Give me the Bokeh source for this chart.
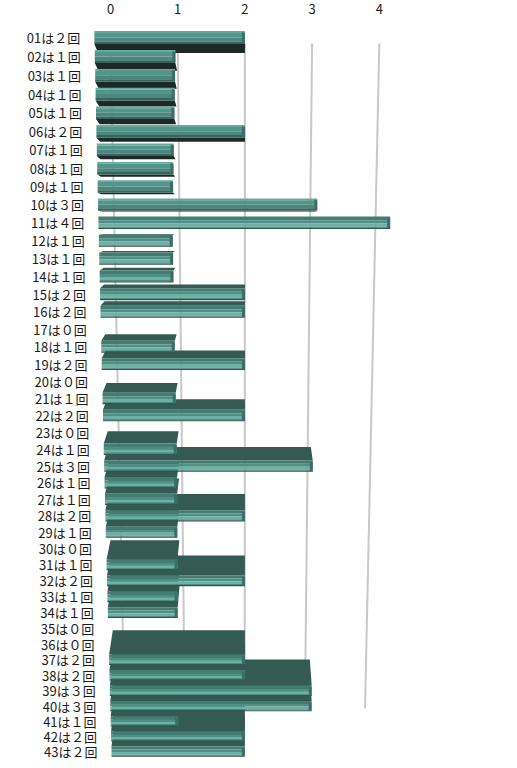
import numpy as np
from bokeh.plotting import figure
from bokeh.models import Range1d, LinearAxis, FixedTicker
from bokeh.core.properties import value
from bokeh.embed import file_html
from bokeh.resources import INLINE

# data: how many times each number came up
numbers = [f"{k:02d}" for k in range(1, 44)]
counts = [2, 1, 1, 1, 1, 2, 1, 1, 1, 3, 4, 1, 1, 1, 2, 2, 0, 1, 2, 0, 1, 2,
          0, 1, 3, 1, 1, 2, 1, 0, 1, 2, 1, 1, 0, 0, 2, 2, 3, 3, 1, 2, 2]
fullwidth = "０１２３４５６７８９"
labels = [f"{n}は{fullwidth[c]}回" for n, c in zip(numbers, counts)]
ticks = [0, 1, 2, 3, 4]

# fake 3d geometry (page pixels vertically, count units horizontally)
n = len(counts)
i = np.arange(n)
yc = 37 + 19.0 * i - 0.0476 * i ** 2
h = 0.68 * (19.0 - 0.095 * i)
horizon = 222.0
cx = 1.98
kf = np.interp(i, [0, 10, 24, 42], [1.03, 1.08, 1.01, 0.99])
left = np.interp(i, [0, 42], [-0.24, 0.015])

top_face = "#355a53"
bottom_face = "#1d2927"
below_stripes = [(0.0, 0.3, "#437c72"), (0.3, 0.55, "#4f8f84"), (0.55, 0.8, "#6ab2a3"),
                 (0.8, 0.9, "#4f8d82"), (0.9, 1.0, "#2f5650")]
above_stripes = [(0.0, 0.15, "#67ab9d"), (0.15, 0.5, "#53958a"), (0.5, 0.8, "#4a887d"),
                 (0.8, 1.0, "#35645c")]

xs, ys, colors = [], [], []


def add(px, py, col):
    xs.append(list(px))
    ys.append(list(py))
    colors.append(col)


# far rows first so nearer faces cover them
order = list(range(0, 10)) + list(range(n - 1, 9, -1))
for k in order:
    c = counts[k]
    if c == 0:
        continue
    T = yc[k] - h[k] / 2
    B = yc[k] + h[k] / 2
    xl = left[k]
    xr = cx + (c - cx) * kf[k]
    if T > horizon:
        d = 0.056 * (T - horizon)
        t = 0.028
        add([xl, xr, xr + (cx - xr) * t, xl + (cx - xl) * t], [T, T, T - d, T - d], top_face)
    elif B < horizon:
        d = 0.05 * (horizon - B)
        t = 0.025
        add([xl, xr, xr + (cx - xr) * t, xl + (cx - xl) * t], [B, B, B + d, B + d], bottom_face)
    stripes = below_stripes if yc[k] > horizon else above_stripes
    for a, b, col in stripes:
        y0 = T + a * h[k]
        y1 = T + b * h[k]
        add([xl, xr, xr, xl], [y0, y0, y1, y1], col)
    # rounded right end
    add([xr - 0.045, xr, xr, xr - 0.045], [T + 1, T + 2, B - 1, B - 0.5], "#3b6e65")

p = figure(width=517, height=768, output_backend="svg", toolbar_location=None,
           x_axis_type=None, y_axis_type=None,
           x_range=Range1d((0 - 110) / 67.2, (517 - 110) / 67.2),
           y_range=Range1d(768, 25),
           min_border=0, outline_line_color=None, background_fill_color="white")
p.xgrid.visible = False
p.ygrid.visible = False

axis = LinearAxis(ticker=FixedTicker(ticks=ticks))
axis.axis_line_color = None
axis.major_tick_line_color = None
axis.minor_tick_line_color = None
axis.major_label_standoff = 6
axis.major_label_text_font = "Noto Sans CJK JP"
axis.major_label_text_font_size = "13px"
axis.major_label_text_color = "#1a1a1a"
p.add_layout(axis, "above")

# converging grid lines
g_top = 43
g_bot = 708
p.segment(x0=ticks, y0=[g_top] * len(ticks),
          x1=[cx + (t - cx) * 0.895 for t in ticks], y1=[g_bot] * len(ticks),
          line_color="#c8c8c8", line_width=2)

p.patches(xs=xs, ys=ys, fill_color=colors, line_color=None)

p.text(x=left - 0.21, y=yc, text=labels, text_align="right", text_baseline="middle",
       text_font=value("Noto Sans CJK JP"), text_font_size="13px", text_color="#1a1a1a")

open("out.html", "w").write(file_html(p, INLINE))
